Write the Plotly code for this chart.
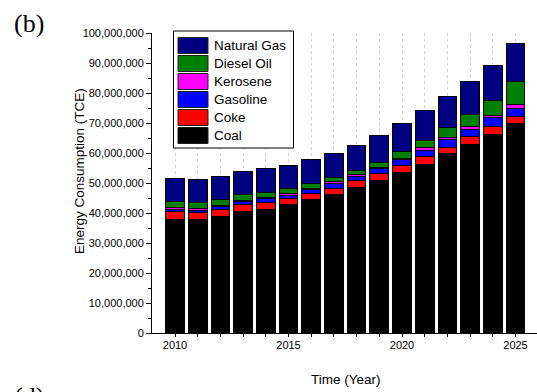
import plotly.graph_objects as go

# Annual energy consumption by fuel type (million TCE)
years = list(range(2010, 2026))
coal = [38.0, 38.0, 39.0, 40.4, 41.3, 42.7, 44.4, 46.2, 48.5, 50.9, 53.5, 56.3, 59.7, 63.0, 66.2, 69.8]
coke = [2.4, 2.2, 2.2, 2.3, 2.2, 2.2, 2.1, 2.1, 2.3, 2.3, 2.4, 2.6, 2.3, 2.5, 2.8, 2.4]
gasoline = [0.9, 0.8, 0.9, 1.2, 1.4, 1.1, 1.4, 1.5, 1.4, 1.8, 2.1, 2.0, 2.4, 2.5, 2.7, 2.8]
kerosene = [0.4, 0.4, 0.4, 0.4, 0.4, 0.5, 0.4, 0.6, 0.6, 0.3, 0.3, 0.9, 0.7, 0.9, 0.8, 1.2]
diesel = [2.3, 2.1, 1.9, 1.9, 1.6, 1.7, 1.5, 1.3, 1.4, 1.7, 2.2, 2.4, 3.4, 4.0, 5.0, 7.7]
natural_gas = [7.5, 7.8, 7.7, 7.6, 7.8, 7.8, 7.9, 8.3, 8.3, 8.8, 9.4, 10.0, 10.4, 10.9, 11.8, 12.5]

series_names = ["Coal", "Coke", "Gasoline", "Kerosene", "Diesel Oil", "Natural Gas"]
series_values = [coal, coke, gasoline, kerosene, diesel, natural_gas]
series_colors = ["#000000", "#FF0000", "#0000FF", "#FF00FF", "#008000", "#000080"]

SANS = "Liberation Sans, Arial, sans-serif"
SERIF = "Liberation Serif, Times New Roman, serif"

W, H = 537, 392
ML, MR, MT, MB = 152, 0, 33, 59
PW, PH = W - ML - MR, H - MT - MB


def px_x(p):
    return (p - ML) / PW


def px_y(p):
    return (H - MB - p) / PH


fig = go.Figure()
for name, vals, color in zip(series_names, series_values, series_colors):
    fig.add_trace(go.Bar(
        x=years,
        y=[v * 1e6 for v in vals],
        name=name,
        width=0.82,
        marker=dict(color=color, line=dict(color="#000000", width=1)),
        showlegend=False,
    ))

# Legend box drawn as shapes (newest series on top)
shapes = [dict(type="rect", xref="paper", yref="paper",
               x0=px_x(173.5), x1=px_x(293.5), y0=px_y(148), y1=px_y(31),
               line=dict(color="#000000", width=1), fillcolor="white", layer="above")]
annotations = []
for i, (name, color) in enumerate(zip(series_names[::-1], series_colors[::-1])):
    top = 37.5 + 18 * i
    shapes.append(dict(type="rect", xref="paper", yref="paper",
                       x0=px_x(178), x1=px_x(208), y0=px_y(top + 16), y1=px_y(top),
                       line=dict(color="#202020", width=1), fillcolor=color, layer="above"))
    annotations.append(dict(xref="paper", yref="paper", x=px_x(211.5), y=px_y(top + 8),
                            xanchor="left", yanchor="middle", showarrow=False,
                            text=name, font=dict(family=SANS, size=13.5, color="black")))

# Axis titles and panel labels
annotations += [
    dict(xref="paper", yref="paper", x=px_x(79), y=px_y(171), textangle=-90,
         xanchor="center", yanchor="middle", showarrow=False,
         text="Energy Consumption (TCE)", font=dict(family=SANS, size=13.5, color="black")),
    dict(xref="paper", yref="paper", x=px_x(345.5), y=px_y(379),
         xanchor="center", yanchor="middle", showarrow=False,
         text="Time (Year)", font=dict(family=SANS, size=13.5, color="black")),
    dict(xref="paper", yref="paper", x=px_x(12), y=px_y(7),
         xanchor="left", yanchor="top", showarrow=False,
         text="(b)", font=dict(family=SERIF, size=26, color="black")),
    dict(xref="paper", yref="paper", x=px_x(12), y=px_y(380),
         xanchor="left", yanchor="top", showarrow=False,
         text="(d)", font=dict(family=SERIF, size=26, color="black")),
]

px_per_year = 22.7
x0 = 2010 - (175 - ML) / px_per_year
x1 = x0 + PW / px_per_year

fig.update_layout(
    width=W, height=H,
    margin=dict(l=ML, r=MR, t=MT, b=MB),
    barmode="stack",
    bargap=0.18,
    paper_bgcolor="white",
    plot_bgcolor="white",
    font=dict(family=SANS, size=11, color="black"),
    shapes=shapes,
    annotations=annotations,
    xaxis=dict(
        range=[x0, x1],
        tickvals=[2010, 2015, 2020, 2025],
        ticks="inside", ticklen=3, tickcolor="black",
        showline=True, linecolor="black", linewidth=1,
        showgrid=False, zeroline=False,
        ticklabelstandoff=2,
        tickfont=dict(family=SANS, size=11, color="black"),
        minor=dict(dtick=1, tick0=2010, ticks="outside", ticklen=3, tickcolor="black",
                   showgrid=True, gridcolor="#d2d2d2", griddash="dot", gridwidth=1),
    ),
    yaxis=dict(
        range=[0, 1e8],
        dtick=1e7, tick0=0,
        tickformat=",d",
        ticks="outside", ticklen=5, tickcolor="black",
        showline=True, linecolor="black", linewidth=1,
        showgrid=False, zeroline=False,
        tickfont=dict(family=SANS, size=11, color="black"),
        minor=dict(dtick=5e6, ticks="outside", ticklen=3, tickcolor="black", showgrid=False),
    ),
)

fig.write_html("out.html")
